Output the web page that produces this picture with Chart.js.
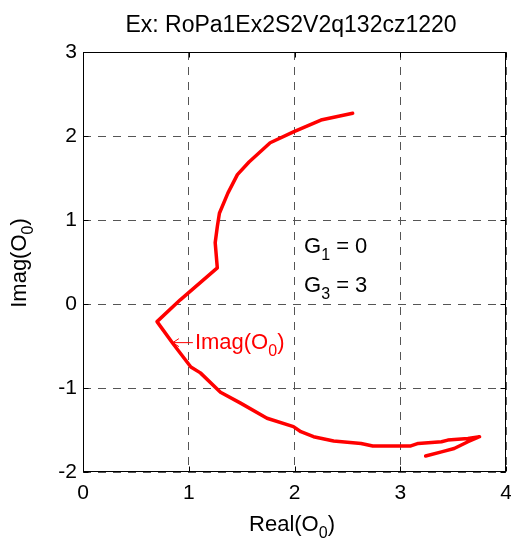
<!DOCTYPE html>
<html>
<head>
<meta charset="utf-8">
<script src="https://cdn.jsdelivr.net/npm/chart.js@4"></script>
<style>
  html, body { margin: 0; padding: 0; background: #fff; }
  #c { display: block; }
</style>
</head>
<body>
<canvas id="c" width="511" height="538"></canvas>
<script>
// curve, from the top end down to the bottom-right hook
const realVals = [2.55, 2.25, 1.99, 1.77, 1.57, 1.46, 1.37, 1.29, 1.27, 1.25, 1.27, 0.92, 0.70,
  0.85, 1.02, 1.11, 1.30, 1.49, 1.74, 1.99, 2.06, 2.18, 2.37, 2.63, 2.74, 3.10, 3.17, 3.39,
  3.45, 3.64, 3.75, 3.64, 3.51, 3.39, 3.24];
const imagVals = [2.27, 2.19, 2.05, 1.92, 1.69, 1.54, 1.32, 1.08, 0.92, 0.73, 0.43, 0.05, -0.21,
  -0.47, -0.75, -0.82, -1.05, -1.18, -1.36, -1.46, -1.52, -1.58, -1.63, -1.66, -1.69, -1.69, -1.66, -1.64,
  -1.62, -1.60, -1.58, -1.64, -1.72, -1.76, -1.81];
const xTickVals = [0, 1, 2, 3, 4];
const yTickVals = [-2, -1, 0, 1, 2, 3];
const titleText = 'Ex: RoPa1Ex2S2V2q132cz1220';
const gLabels = [['G', '1', ' = 0'], ['G', '3', ' = 3']];
const curveLabelAt = [0.85, -0.46];   // where the arrow of Imag(O0) points
const gLabelAt = [2.09, 0.61];

const FONT = '"Liberation Sans", Arial, sans-serif';
const points = realVals.map((x, i) => ({ x: x, y: imagVals[i] }));

// draws text pieces [str, isSub] starting at x, returns width
function subText(ctx, pieces, x, y, size, doDraw) {
  let cx = x;
  pieces.forEach(p => {
    const s = p[1] ? Math.round(size * 0.72) : size;
    ctx.font = s + 'px ' + FONT;
    if (doDraw) ctx.fillText(p[0], cx, p[1] ? y + size * 0.32 : y);
    cx += ctx.measureText(p[0]).width;
  });
  return cx - x;
}

const frame = {
  id: 'frame',
  afterDraw(chart) {
    const ctx = chart.ctx, a = chart.chartArea;
    const xs = chart.scales.x, ys = chart.scales.y;
    const L = Math.round(a.left) + 0.5, R = Math.round(a.right) - 0.5;
    const T = Math.round(a.top) + 0.5, B = Math.round(a.bottom) - 0.5;
    ctx.save();
    ctx.strokeStyle = '#000';
    ctx.lineWidth = 1;
    ctx.setLineDash([]);
    ctx.strokeRect(L, T, R - L, B - T);
    ctx.beginPath();
    xTickVals.forEach(v => {
      const px = Math.round(xs.getPixelForValue(v)) + 0.5;
      ctx.moveTo(px, B); ctx.lineTo(px, B - 5);
      ctx.moveTo(px, T); ctx.lineTo(px, T + 5);
    });
    yTickVals.forEach(v => {
      const py = Math.round(ys.getPixelForValue(v)) + 0.5;
      ctx.moveTo(L, py); ctx.lineTo(L + 5, py);
      ctx.moveTo(R, py); ctx.lineTo(R - 5, py);
    });
    ctx.stroke();

    ctx.fillStyle = '#000';
    ctx.textBaseline = 'alphabetic';
    ctx.textAlign = 'left';
    // title
    ctx.font = '23px ' + FONT;
    const tw = ctx.measureText(titleText).width;
    ctx.fillText(titleText, 291 - tw / 2, 32);

    // x title
    const xt = [['Real(O', 0], ['0', 1], [')', 0]];
    const xw = subText(ctx, xt, 0, 0, 22, false);
    subText(ctx, xt, 292 - xw / 2, 531, 22, true);

    // y title, rotated
    const yt = [['Imag(O', 0], ['0', 1], [')', 0]];
    const yw = subText(ctx, yt, 0, 0, 22, false);
    ctx.save();
    ctx.translate(26, 263);
    ctx.rotate(-Math.PI / 2);
    subText(ctx, yt, -yw / 2, 0, 22, true);
    ctx.restore();

    // G labels
    const gx = xs.getPixelForValue(gLabelAt[0]);
    const gy = ys.getPixelForValue(gLabelAt[1]);
    gLabels.forEach((g, i) => {
      subText(ctx, [[g[0], 0], [g[1], 1], [g[2], 0]], gx, gy + i * 39, 22, true);
    });

    // curve label with arrow
    const ax = xs.getPixelForValue(curveLabelAt[0]);
    const ay = ys.getPixelForValue(curveLabelAt[1]);
    ctx.strokeStyle = '#ff0000';
    ctx.fillStyle = '#ff0000';
    ctx.lineWidth = 1;
    ctx.beginPath();
    ctx.moveTo(ax, ay); ctx.lineTo(ax + 20, ay);
    ctx.moveTo(ax + 6, ay - 4); ctx.lineTo(ax, ay); ctx.lineTo(ax + 6, ay + 4);
    ctx.stroke();
    subText(ctx, [['Imag(O', 0], ['0', 1], [')', 0]], ax + 22, ay + 6, 22, true);
    ctx.restore();
  }
};

new Chart(document.getElementById('c'), {
  type: 'scatter',
  data: {
    datasets: [{
      data: points,
      showLine: true,
      borderColor: '#ff0000',
      backgroundColor: '#ff0000',
      borderWidth: 3.5,
      pointRadius: 0,
      tension: 0,
      borderJoinStyle: 'round',
      borderCapStyle: 'round'
    }]
  },
  options: {
    responsive: false,
    animation: false,
    devicePixelRatio: 1,
    layout: { padding: { left: 0, right: 5, top: 52, bottom: 0 } },
    plugins: { legend: { display: false }, tooltip: { enabled: false } },
    scales: {
      x: {
        type: 'linear',
        min: 0, max: 4,
        afterBuildTicks: s => { s.ticks = xTickVals.map(v => ({ value: v })); },
        afterFit: s => { s.height = 66; s.paddingLeft = 0; s.paddingRight = 0; },
        grid: { color: '#555', drawTicks: false, lineWidth: 1 },
        border: { display: false, dash: [8, 7] },
        ticks: { color: '#000', font: { size: 21, family: FONT }, padding: 9, maxRotation: 0 }
      },
      y: {
        type: 'linear',
        min: -2, max: 3,
        afterBuildTicks: s => { s.ticks = yTickVals.map(v => ({ value: v })); },
        afterFit: s => { s.width = 83; s.paddingTop = 0; s.paddingBottom = 0; },
        grid: { color: '#555', drawTicks: false, lineWidth: 1 },
        border: { display: false, dash: [8, 7] },
        ticks: { color: '#000', font: { size: 21, family: FONT }, padding: 6 }
      }
    }
  },
  plugins: [frame]
});
</script>
</body>
</html>
